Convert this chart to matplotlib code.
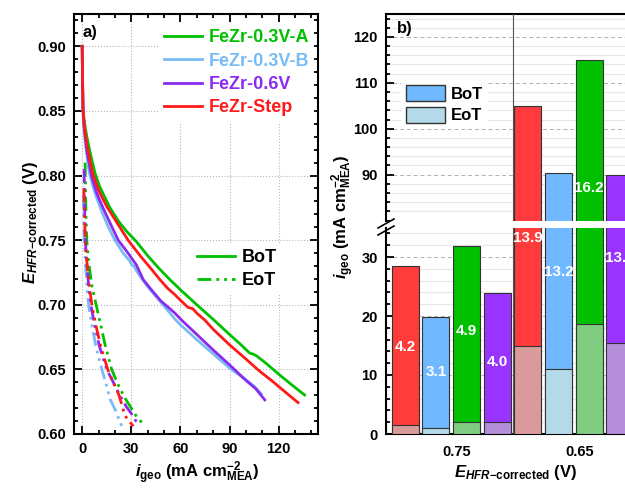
import numpy as np
import matplotlib
matplotlib.use('Agg')
import matplotlib.pyplot as plt
from matplotlib.lines import Line2D
from matplotlib.patches import Patch
from matplotlib.ticker import MultipleLocator

plt.rcParams['font.family'] = ['Liberation Sans', 'DejaVu Sans']
plt.rcParams['font.weight'] = 'bold'
plt.rcParams['mathtext.fontset'] = 'custom'
plt.rcParams['mathtext.rm'] = 'Liberation Sans:bold'
plt.rcParams['mathtext.it'] = 'Liberation Sans:italic:bold'
plt.rcParams['mathtext.bf'] = 'Liberation Sans:bold'

# ---- panel a) polarisation curves ----
names = ['FeZr-0.3V-A', 'FeZr-0.3V-B', 'FeZr-0.6V', 'FeZr-Step']
line_colors = ['#00C000', '#78BBF5', '#8B2BF0', '#FF1A1A']

bot_i_A = [0, 0.2, 0.5, 1, 2, 3, 5, 7.8, 10.5, 13.5, 17, 22, 27, 33, 40, 47, 53.6, 60, 70, 80, 90,
           97, 102.3, 104.5, 106.4, 112, 120, 128, 135.8]
bot_E_A = [0.900, 0.875, 0.853, 0.845, 0.836, 0.829, 0.817, 0.802, 0.792, 0.784, 0.775, 0.765, 0.757,
           0.749, 0.738, 0.728, 0.7194, 0.7116, 0.700, 0.6887, 0.677, 0.669, 0.6626, 0.6618, 0.6605,
           0.655, 0.6463, 0.638, 0.6302]
bot_i_B = [0, 0.2, 0.5, 1, 2, 3, 4, 4.8, 6.5, 8.5, 12, 16, 20, 25, 29, 30.5, 31.5, 33, 36, 40, 48,
           56.6, 60, 70, 80, 90, 100, 105, 109.4]
bot_E_B = [0.900, 0.875, 0.850, 0.837, 0.824, 0.814, 0.805, 0.800, 0.792, 0.784, 0.772, 0.760, 0.750,
           0.740, 0.734, 0.7305, 0.730, 0.7265, 0.721, 0.714, 0.702, 0.689, 0.6845, 0.673, 0.662,
           0.651, 0.642, 0.637, 0.631]
bot_i_06 = [0, 0.2, 0.5, 1, 2, 3, 4.2, 5.6, 7.5, 9, 12, 16, 22, 28, 33, 37.3, 42, 48, 56.6, 60, 70,
            80, 90, 100, 106, 111.5]
bot_E_06 = [0.900, 0.875, 0.852, 0.840, 0.828, 0.818, 0.810, 0.800, 0.792, 0.786, 0.777, 0.766, 0.750,
            0.740, 0.731, 0.7194, 0.712, 0.703, 0.6936, 0.689, 0.677, 0.665, 0.6535, 0.6415, 0.635,
            0.6264]
bot_i_St = [0, 0.2, 0.5, 1, 2, 3, 5, 6.8, 9, 11, 15, 20, 24, 28, 36, 42, 47.5, 52, 56.6, 60, 64.6,
            66, 67.5, 69.9, 75, 80, 90, 100, 108, 116, 124, 131.8]
bot_E_St = [0.900, 0.875, 0.852, 0.842, 0.831, 0.823, 0.810, 0.800, 0.792, 0.786, 0.776, 0.766, 0.758,
            0.750, 0.737, 0.728, 0.7194, 0.713, 0.7078, 0.7035, 0.698, 0.6975, 0.697, 0.6936, 0.688,
            0.681, 0.669, 0.658, 0.649, 0.641, 0.6325, 0.6243]

eot_i_A = [1.8, 2.0, 2.3, 2.8, 4.0, 6.0, 8.5, 11.0, 14.0, 18.0, 22.0, 26.0, 29.5, 33.0, 37.0]
eot_E_A = [0.810, 0.790, 0.770, 0.750, 0.732, 0.714, 0.700, 0.686, 0.669, 0.650, 0.638, 0.628,
           0.621, 0.614, 0.608]
eot_i_B = [0.7, 0.8, 1.0, 1.3, 2.2, 3.0, 3.9, 5.8, 8.5, 12.0, 15.0, 17.0, 20.1, 24.2]
eot_E_B = [0.785, 0.775, 0.762, 0.750, 0.728, 0.712, 0.700, 0.685, 0.667, 0.650, 0.637, 0.627,
           0.619, 0.606]
eot_i_06 = [1.2, 1.4, 1.6, 1.9, 3.0, 4.2, 5.3, 7.5, 10.5, 15.0, 19.0, 23.0, 27.0, 30.5, 33.3]
eot_E_06 = [0.805, 0.785, 0.768, 0.750, 0.728, 0.712, 0.700, 0.685, 0.668, 0.650, 0.640, 0.630,
            0.621, 0.615, 0.609]
eot_i_St = [1.0, 1.3, 1.6, 1.9, 3.2, 4.6, 5.9, 8.2, 11.5, 15.6, 19.0, 22.5, 26.2, 31.2]
eot_E_St = [0.790, 0.775, 0.762, 0.750, 0.728, 0.712, 0.700, 0.685, 0.667, 0.650, 0.640, 0.630,
            0.614, 0.606]

# ---- panel b) bars ----
voltages = ['0.75', '0.65']
bar_names = ['FeZr-Step', 'FeZr-0.3V-B', 'FeZr-0.3V-A', 'FeZr-0.6V']
bot_colors = ['#FF3B3B', '#70B8FF', '#00C000', '#9933FF']
eot_colors = ['#D99A9A', '#B4D9E8', '#80CC80', '#B48ED8']
bot_075 = [28.5, 19.8, 31.9, 23.9]
eot_075 = [1.5, 1.0, 2.0, 2.0]
bot_065 = [105.0, 90.4, 115.0, 90.0]
eot_065 = [14.9, 11.0, 18.6, 15.5]
pct_075 = ['4.2', '3.1', '4.9', '4.0']
pct_065 = ['13.9', '13.2', '16.2', '13.7']
pct_y_075 = [14.7, 10.5, 17.5, 12.2]
pct_y_065 = [33.2, 27.5, 87.0, 29.8]

W, H = 625, 488
fig = plt.figure(figsize=(6.25, 4.88), dpi=100)


def fbox(x0, y0, x1, y1):
    return [x0 / W, 1 - y1 / H, (x1 - x0) / W, (y1 - y0) / H]


# ================= a) =================
ax = fig.add_axes(fbox(74, 14, 318, 434))
bots = [(bot_i_A, bot_E_A), (bot_i_B, bot_E_B), (bot_i_06, bot_E_06), (bot_i_St, bot_E_St)]
eots = [(eot_i_A, eot_E_A), (eot_i_B, eot_E_B), (eot_i_06, eot_E_06), (eot_i_St, eot_E_St)]
eot_style = (0, (5, 1.8, 1, 1.8, 1, 1.8))
handles = []
for (bi, be), (ei, ee), c, n in zip(bots, eots, line_colors, names):
    h, = ax.plot(bi, be, color=c, lw=2.0, label=n)
    ax.plot(ei, ee, color=c, lw=2.0, linestyle=eot_style)
    handles.append(h)

ax.set_xlim(-5, 144)
ax.set_ylim(0.6, 0.925)
ax.xaxis.set_major_locator(MultipleLocator(30))
ax.xaxis.set_minor_locator(MultipleLocator(10))
ax.yaxis.set_major_locator(MultipleLocator(0.05))
ax.yaxis.set_minor_locator(MultipleLocator(0.01))
ax.yaxis.set_major_formatter(matplotlib.ticker.FormatStrFormatter('%.2f'))
ax.tick_params(which='both', direction='in', top=True, right=True, width=1.3, labelsize=10.5)
ax.tick_params(which='major', length=6, pad=6)
ax.tick_params(which='minor', length=3)
for s in ax.spines.values():
    s.set_linewidth(1.5)
ax.grid(True, which='major', color='#b8b8b8', linestyle=':', lw=0.8)
ax.text(0.035, 0.955, 'a)', transform=ax.transAxes, fontsize=12, fontweight='bold', va='center')

leg1 = ax.legend(handles=handles, loc='upper right', bbox_to_anchor=(1.0, 0.985), fontsize=13,
                 frameon=True, facecolor='white', edgecolor='none', framealpha=1,
                 handlelength=2.1, handletextpad=0.35, labelspacing=0.35, borderpad=0.3,
                 borderaxespad=0.2)
for t, c in zip(leg1.get_texts(), line_colors):
    t.set_color(c)
ax.add_artist(leg1)
lh = [Line2D([], [], color='#00C000', lw=2.0),
      Line2D([], [], color='#00C000', lw=2.0, linestyle=eot_style)]
ax.legend(lh, ['BoT', 'EoT'], loc='upper left', bbox_to_anchor=(0.445, 0.475), fontsize=13,
          frameon=True, facecolor='white', edgecolor='none', framealpha=1,
          handlelength=2.1, handletextpad=0.35, labelspacing=0.35, borderpad=0.3)

fig.text(197 / W, 1 - 473 / H, r'$i_{\mathrm{geo}}$ (mA cm$^{-2}_{\mathrm{MEA}}$)',
         ha='center', va='center', fontsize=12, fontweight='bold')
fig.text(30 / W, 1 - 222 / H, r'$E_{HFR\mathrm{-corrected}}$ (V)', rotation=90,
         ha='center', va='center', fontsize=12, fontweight='bold')

# ================= b) =================
xl, xr = 386, 639
ax_lo = fig.add_axes(fbox(xl, 227.5, xr, 434))
ax_up = fig.add_axes(fbox(xl, 14, xr, 220.5))
pos = np.arange(len(voltages))
off = 0.25
bw = 0.22
for a in (ax_lo, ax_up):
    for k in range(4):
        x = pos + (k - 1.5) * off
        a.bar(x, [bot_075[k], bot_065[k]], width=bw, color=bot_colors[k], edgecolor='#333333',
              lw=0.8, zorder=2)
        a.bar(x, [eot_075[k], eot_065[k]], width=bw, color=eot_colors[k], edgecolor='#333333',
              lw=0.8, zorder=3)
    a.axvline(0.5, color='#555555', lw=0.8, zorder=4)
    a.set_xlim(-0.531, 1.531)
    a.set_axisbelow(True)
    a.yaxis.set_minor_locator(MultipleLocator(2))
    a.grid(True, axis='y', which='minor', color='#e6e6e6', lw=0.8, linestyle='-')
    a.grid(True, axis='y', which='major', color='#b0b0b0', lw=0.7, linestyle=(0, (4, 3)))
    a.tick_params(axis='y', which='both', direction='in', width=1.3, labelsize=10.5, pad=6)
    a.tick_params(axis='y', which='major', length=6)
    a.tick_params(axis='y', which='minor', length=3)
    for s in a.spines.values():
        s.set_linewidth(1.5)

ax_lo.set_ylim(0, 35)
ax_lo.set_yticks([0, 10, 20, 30])
ax_lo.spines['top'].set_visible(False)
ax_lo.set_xticks(pos + 0.045)
ax_lo.set_xticklabels(voltages)
ax_lo.tick_params(axis='x', length=0, labelsize=10.5, pad=8)

ax_up.set_ylim(80, 125)
ax_up.set_yticks([90, 100, 110, 120])
ax_up.spines['bottom'].set_visible(False)
ax_up.set_xticks([])

for k in range(4):
    ax_lo.text(pos[0] + (k - 1.5) * off, pct_y_075[k], pct_075[k], color='white', ha='center',
               va='center', fontsize=11, fontweight='bold', zorder=5)
    target = ax_up if pct_y_065[k] > 35 else ax_lo
    target.text(pos[1] + (k - 1.5) * off, pct_y_065[k], pct_065[k], color='white', ha='center',
                va='center', fontsize=11, fontweight='bold', zorder=5)

ax_up.text(0.045, 0.93, 'b)', transform=ax_up.transAxes, fontsize=12, fontweight='bold',
           va='center')
ax_up.legend([Patch(facecolor='#70B8FF', edgecolor='#333333'),
              Patch(facecolor='#B4D9E8', edgecolor='#333333')], ['BoT', 'EoT'],
             loc='upper left', bbox_to_anchor=(0.028, 0.72), fontsize=12, frameon=True,
             facecolor='white', edgecolor='none', framealpha=1, handlelength=2.3,
             handleheight=1.1, handletextpad=0.35, labelspacing=0.3, borderpad=0.3)

# axis break marks
for dy in (0, 7):
    fig.add_artist(Line2D([378 / W, 394 / W], [1 - (228 + dy) / H, 1 - (219 + dy) / H],
                          color='black', lw=1.2))

fig.text(343 / W, 1 - 217 / H, r'$i_{\mathrm{geo}}$ (mA cm$^{-2}_{\mathrm{MEA}}$)', rotation=90,
         ha='center', va='center', fontsize=12, fontweight='bold')
fig.text(516 / W, 1 - 473 / H, r'$E_{HFR\mathrm{-corrected}}$ (V)',
         ha='center', va='center', fontsize=12, fontweight='bold')

fig.savefig('out.png', dpi=100)
